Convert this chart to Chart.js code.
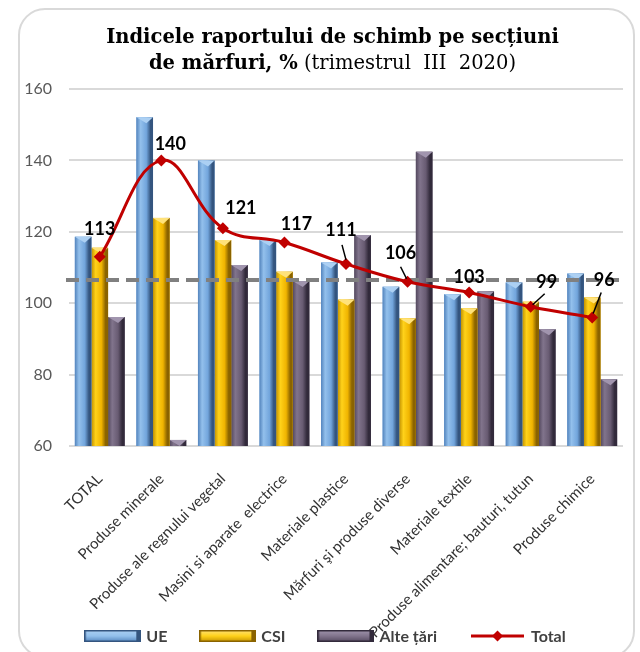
<!DOCTYPE html>
<html>
<head>
<meta charset="utf-8">
<script src="https://cdn.jsdelivr.net/npm/chart.js@4/dist/chart.umd.min.js"></script>
<style>
  html, body { margin: 0; padding: 0; background: #fff; }
  #wrap { position: relative; width: 640px; height: 652px; overflow: hidden; }
  #chart { position: absolute; left: 0; top: 0; }
  #title {
    position: absolute; left: 25px; width: 615px; top: 24px;
    text-align: center; white-space: pre; color: #000;
    font-family: "DejaVu Serif", serif; font-size: 19.5px; line-height: 26px;
  }
  #title b { font-weight: bold; }
  #title span { font-weight: normal; }
</style>
</head>
<body>
<div id="wrap">
  <canvas id="chart" width="640" height="652"></canvas>
  <div id="title"><b>Indicele raportului de schimb pe secțiuni</b>
<b>de mărfuri, %</b><span> (trimestrul  III  2020)</span></div>
</div>
<script>
// Sections of goods
const categories = [
  'TOTAL',
  'Produse minerale',
  'Produse ale regnului vegetal',
  'Masini si aparate  electrice',
  'Materiale plastice',
  'Mărfuri şi produse diverse',
  'Materiale textile',
  'Produse alimentare; bauturi, tutun',
  'Produse chimice'
];

// Terms-of-trade index by partner group, %
const ueValues    = [118.6, 152.1, 140.0, 117.7, 111.4, 104.6, 102.5, 105.8, 108.3];
const csiValues   = [115.5, 123.9, 117.7, 108.8, 101.0,  95.8,  98.6, 100.4, 101.6];
const otherValues = [ 96.1,  61.7, 110.7, 106.2, 119.1, 142.4, 103.3,  92.7,  78.7];
const totalValues = [113, 140, 121, 117, 111, 106, 103, 99, 96];

// Horizontal reference level (dashed)
const referenceLevel = 106.5;

// Value axis ticks
const yTicks = [60, 80, 100, 120, 140, 160];

const seriesNames = ['UE', 'CSI', 'Alte țări', 'Total'];

// Placement of the value labels on the Total line (pixels, relative to the point)
const labelOffsets = [[0, -28], [9, -16], [18, -20], [12, -18], [-5, -34], [-7, -29], [0, -15], [16, -25], [12, -37]];
// Leader segments from label to point: [x1, y1, x2, y2] relative to the point
const leaderLines = [null, null, null, null, [-4, -19, 0, -4], [-7, -15, -1, -3], null, [14, -13, 2, -2], [9, -25, 1, -4]];

// Cylinder-like shading for each bar series
const barShades = [
  { edgeL: '#5384bd', light: '#93c0ec', mid: '#72a5dc', edgeR: '#34557f', cap: '#acd0f3', base: '#72a5dc' },
  { edgeL: '#c39200', light: '#ffd21a', mid: '#f0b400', edgeR: '#8a6300', cap: '#ffe27a', base: '#f0b400' },
  { edgeL: '#54495f', light: '#81748c', mid: '#685b72', edgeR: '#322a3b', cap: '#a195ae', base: '#685b72' }
];
const lineColor = '#c00000';

// Legend swatches
function barSwatch(shade) {
  const c = document.createElement('canvas');
  c.width = 57; c.height = 12;
  const x = c.getContext('2d');
  const g = x.createLinearGradient(0, 0, 0, 12);
  g.addColorStop(0, shade.cap);
  g.addColorStop(0.5, shade.light);
  g.addColorStop(1, shade.edgeL);
  x.fillStyle = g;
  x.fillRect(0, 0, 57, 12);
  x.strokeStyle = shade.edgeR;
  x.lineWidth = 1.5;
  x.strokeRect(0.75, 0.75, 55.5, 10.5);
  x.fillStyle = shade.edgeR;
  x.fillRect(52, 0, 5, 12);
  return c;
}
function lineSwatch() {
  const c = document.createElement('canvas');
  c.width = 57; c.height = 14;
  const x = c.getContext('2d');
  x.strokeStyle = lineColor; x.lineWidth = 3;
  x.beginPath(); x.moveTo(2, 7); x.lineTo(55, 7); x.stroke();
  x.fillStyle = lineColor;
  x.beginPath(); x.moveTo(28.5, 1.5); x.lineTo(34, 7); x.lineTo(28.5, 12.5); x.lineTo(23, 7); x.closePath(); x.fill();
  return c;
}
const swatches = [barSwatch(barShades[0]), barSwatch(barShades[1]), barSwatch(barShades[2]), lineSwatch()];

// White background and rounded frame
const frame = {
  id: 'frame',
  beforeDraw(chart) {
    const ctx = chart.ctx;
    ctx.save();
    ctx.fillStyle = '#fff';
    ctx.fillRect(0, 0, chart.width, chart.height);
    ctx.strokeStyle = '#d9d9d9';
    ctx.lineWidth = 2;
    ctx.beginPath();
    ctx.roundRect(19, 9, 615, 648, 26);
    ctx.stroke();
    ctx.restore();
  }
};

// Shading of bar columns and the dashed reference line
const columnStyle = {
  id: 'columnStyle',
  afterDatasetDraw(chart, args) {
    const meta = args.meta;
    const ctx = chart.ctx;
    if (meta.type === 'bar') {
      const s = barShades[args.index];
      const area = chart.chartArea;
      ctx.save();
      ctx.beginPath();
      ctx.rect(area.left, area.top, area.right - area.left, area.bottom - area.top);
      ctx.clip();
      meta.data.forEach(el => {
        const p = el.getProps(['x', 'y', 'base', 'width'], true);
        const l = p.x - p.width / 2, r = p.x + p.width / 2;
        const bottom = Math.min(p.base, area.bottom);
        const h = bottom - p.y;
        const g = ctx.createLinearGradient(l, 0, r, 0);
        g.addColorStop(0, s.edgeL);
        g.addColorStop(0.25, s.light);
        g.addColorStop(0.6, s.mid);
        g.addColorStop(0.85, s.edgeR);
        g.addColorStop(1, s.edgeR);
        ctx.fillStyle = g;
        ctx.fillRect(l, p.y, p.width, h);
        const capH = Math.min(6, h);
        ctx.fillStyle = s.cap;
        ctx.beginPath();
        ctx.moveTo(l, p.y);
        ctx.lineTo(r, p.y);
        ctx.lineTo(p.x + p.width * 0.1, p.y + capH);
        ctx.closePath();
        ctx.fill();
      });
      ctx.restore();
    }
  },
  beforeDatasetDraw(chart, args) {
    if (args.meta.type !== 'line') return;
    const ctx = chart.ctx;
    const area = chart.chartArea;
    const y = chart.scales.y.getPixelForValue(referenceLevel);
    ctx.save();
    ctx.strokeStyle = '#808080';
    ctx.lineWidth = 4;
    ctx.setLineDash([13, 7]);
    ctx.beginPath();
    ctx.moveTo(area.left - 3, y);
    ctx.lineTo(area.right, y);
    ctx.stroke();
    ctx.restore();
  }
};

// Value labels for the Total line
const totalLabels = {
  id: 'totalLabels',
  afterDatasetsDraw(chart) {
    const ctx = chart.ctx;
    const meta = chart.getDatasetMeta(3);
    ctx.save();
    ctx.fillStyle = '#000';
    ctx.strokeStyle = '#000';
    ctx.lineWidth = 1.5;
    ctx.font = 'bold 18px Lato';
    ctx.textAlign = 'center';
    ctx.textBaseline = 'middle';
    meta.data.forEach((pt, i) => {
      const lead = leaderLines[i];
      if (lead) {
        ctx.beginPath();
        ctx.moveTo(pt.x + lead[0], pt.y + lead[1]);
        ctx.lineTo(pt.x + lead[2], pt.y + lead[3]);
        ctx.stroke();
      }
      const off = labelOffsets[i];
      ctx.fillText(String(totalValues[i]), pt.x + off[0], pt.y + off[1]);
    });
    ctx.restore();
  }
};

// Legend row under the axis labels
const legendRow = {
  id: 'legendRow',
  afterDraw(chart) {
    const ctx = chart.ctx;
    const swatchW = 57, textGap = 5, itemGap = 32, centerX = 325, y = 636;
    ctx.save();
    ctx.font = 'bold 16px Lato';
    ctx.fillStyle = '#404040';
    ctx.textAlign = 'left';
    ctx.textBaseline = 'middle';
    const widths = seriesNames.map(n => swatchW + textGap + ctx.measureText(n).width);
    const total = widths.reduce((a, b) => a + b, 0) + itemGap * (widths.length - 1);
    let x = centerX - total / 2;
    seriesNames.forEach((name, i) => {
      const img = swatches[i];
      ctx.drawImage(img, x, y - img.height / 2);
      ctx.fillText(name, x + swatchW + textGap, y + 1);
      x += widths[i] + itemGap;
    });
    ctx.restore();
  }
};

const barSeries = [ueValues, csiValues, otherValues];

new Chart(document.getElementById('chart'), {
  data: {
    labels: categories,
    datasets: [
      ...barSeries.map((values, i) => ({
        type: 'bar',
        label: seriesNames[i],
        data: values,
        backgroundColor: barShades[i].base,
        borderWidth: 0,
        categoryPercentage: 0.81,
        barPercentage: 1.0,
        order: 1
      })),
      {
        type: 'line',
        label: seriesNames[3],
        data: totalValues,
        borderColor: lineColor,
        backgroundColor: lineColor,
        borderWidth: 3,
        tension: 0.4,
        pointStyle: 'rectRot',
        pointRadius: 6,
        pointBackgroundColor: lineColor,
        pointBorderColor: lineColor,
        pointBorderWidth: 0,
        fill: false,
        order: 0
      }
    ]
  },
  options: {
    responsive: false,
    animation: false,
    devicePixelRatio: 1,
    layout: { padding: { left: 19, right: 17, top: 89, bottom: 0 } },
    plugins: {
      title: { display: false },
      tooltip: { enabled: false },
      legend: { display: false }
    },
    scales: {
      x: {
        grid: { display: false },
        border: { display: false },
        ticks: {
          autoSkip: false,
          minRotation: 45,
          maxRotation: 45,
          padding: 16,
          labelOffset: 0,
          color: '#333333',
          font: { family: 'Lato', size: 15 }
        },
        afterFit(scale) { scale.height = 206; }
      },
      y: {
        min: yTicks[0],
        max: yTicks[yTicks.length - 1],
        afterBuildTicks(scale) { scale.ticks = yTicks.map(v => ({ value: v })); },
        grid: { color: '#d9d9d9', lineWidth: 2, drawTicks: false },
        border: { display: false },
        ticks: {
          padding: 17,
          color: '#595959',
          font: { family: 'Lato', size: 16 }
        },
        afterFit(scale) { scale.width = 50; }
      }
    }
  },
  plugins: [frame, columnStyle, totalLabels, legendRow]
});
</script>
</body>
</html>
